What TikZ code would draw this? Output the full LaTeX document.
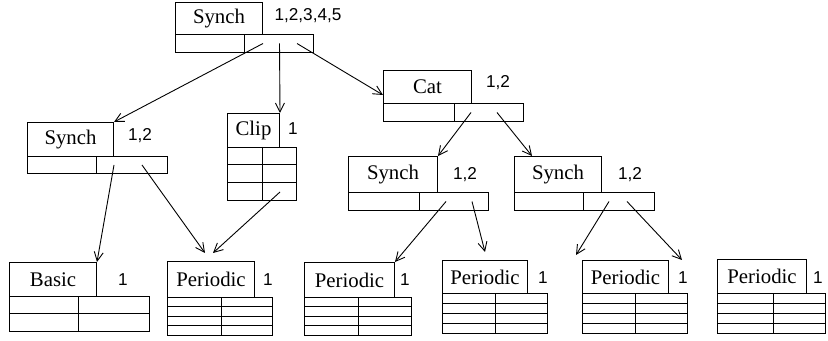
\documentclass[tikz,border=0pt]{standalone}
\usepackage{fontspec}
\setmainfont{Liberation Serif}
\setsansfont{Liberation Sans}
\usetikzlibrary{arrows.meta}

\tikzset{
	namebox/.style={draw, rectangle, inner sep=0pt, anchor=north west, font=\fontsize{10.4}{12}\selectfont},
	slot/.style={draw, rectangle, inner sep=0pt, anchor=north west},
	count/.style={font=\sffamily\fontsize{8.6}{10}\selectfont, inner sep=0pt},
	ptr/.style={line width=0.45pt, -{Straight Barb[length=4.5pt,width=4.5pt]}}
}

\begin{document}
\begin{tikzpicture}[x=0.5pt, y=-0.5pt, line width=0.5pt]

			\useasboundingbox (0,0) rectangle (828,341);

			% top synch record
			\node[namebox, minimum width=43.5pt, minimum height=16pt]
			(SynchTop) at (175,2) {Synch};
			\node[slot, minimum width=34.5pt, minimum height=9pt]
			(SynchTop-L) at (175,34) {};
			\node[slot, minimum width=34.5pt, minimum height=9pt]
			(SynchTop-R) at (244,34) {};
			\node[count] (SynchTop-N) at (308,16) {1,2,3,4,5};

			% left synch record
			\node[namebox, minimum width=43pt, minimum height=17pt]
			(SynchLeft) at (27,122) {Synch};
			\node[slot, minimum width=34.5pt, minimum height=8.5pt]
			(SynchLeft-L) at (27,156) {};
			\node[slot, minimum width=35.5pt, minimum height=8.5pt]
			(SynchLeft-R) at (96,156) {};
			\node[count] (SynchLeft-N) at (140,136) {1,2};

			% clip record
			\node[namebox, minimum width=26pt, minimum height=17pt]
			(Clip) at (227,113) {Clip};
			\node[slot, minimum width=34.5pt, minimum height=26.5pt]
			(Clip-T) at (227,147) {};
			\draw (262,147) -- (262,200);
			\draw (227,165) -- (296,165);
			\draw (227,183) -- (296,183);
			\node[count] (Clip-N) at (293,129) {1};

			% cat record
			\node[namebox, minimum width=44pt, minimum height=16.5pt]
			(Cat) at (383,70) {Cat};
			\node[slot, minimum width=35.5pt, minimum height=9pt]
			(Cat-L) at (383,103) {};
			\node[slot, minimum width=34.5pt, minimum height=9pt]
			(Cat-R) at (454,103) {};
			\node[count] (Cat-N) at (498,83) {1,2};

			% synch records under cat
			\node[namebox, minimum width=44.5pt, minimum height=18pt]
			(SynchMidA) at (348,156) {Synch};
			\node[slot, minimum width=35.5pt, minimum height=9pt]
			(SynchMidA-L) at (348,192) {};
			\node[slot, minimum width=34.5pt, minimum height=9pt]
			(SynchMidA-R) at (419,192) {};
			\node[count] (SynchMidA-N) at (465,175) {1,2};

			\node[namebox, minimum width=43.5pt, minimum height=18pt]
			(SynchMidB) at (514,156) {Synch};
			\node[slot, minimum width=34.5pt, minimum height=9pt]
			(SynchMidB-L) at (514,192) {};
			\node[slot, minimum width=35.5pt, minimum height=9pt]
			(SynchMidB-R) at (583,192) {};
			\node[count] (SynchMidB-N) at (630,175) {1,2};

			% basic record
			\node[namebox, minimum width=43.5pt, minimum height=17pt]
			(Basic) at (9,262) {Basic};
			\node[slot, minimum width=70pt, minimum height=17.5pt]
			(Basic-T) at (9,296) {};
			\draw (78,296) -- (78,331);
			\draw (9,313) -- (149,313);
			\node[count] (Basic-N) at (123,280) {1};

			% periodic records
			\node[namebox, minimum width=43.5pt, minimum height=18pt]
			(Per1) at (167,261) {Periodic};
			\node[slot, minimum width=52.5pt, minimum height=19pt]
			(Per1-T) at (167,297) {};
			\draw (221,297) -- (221,335);
			\draw (167,306.5) -- (272,306.5);
			\draw (167,316) -- (272,316);
			\draw (167,325.5) -- (272,325.5);
			\node[count] (Per1-N) at (268,280) {1};

			\node[namebox, minimum width=45pt, minimum height=17.5pt]
			(Per2) at (304,262) {Periodic};
			\node[slot, minimum width=53.5pt, minimum height=19pt]
			(Per2-T) at (304,297) {};
			\draw (358,297) -- (358,335);
			\draw (304,306.5) -- (411,306.5);
			\draw (304,316) -- (411,316);
			\draw (304,325.5) -- (411,325.5);
			\node[count] (Per2-N) at (405,280) {1};

			\node[namebox, minimum width=42.5pt, minimum height=16.5pt]
			(Per3) at (442,260) {Periodic};
			\node[slot, minimum width=52.5pt, minimum height=20pt]
			(Per3-T) at (442,293) {};
			\draw (495,293) -- (495,333);
			\draw (442,303) -- (547,303);
			\draw (442,313) -- (547,313);
			\draw (442,323) -- (547,323);
			\node[count] (Per3-N) at (543,278) {1};

			\node[namebox, minimum width=43pt, minimum height=16.5pt]
			(Per4) at (582,260) {Periodic};
			\node[slot, minimum width=52.5pt, minimum height=20pt]
			(Per4-T) at (582,293) {};
			\draw (635,293) -- (635,333);
			\draw (582,303) -- (687,303);
			\draw (582,313) -- (687,313);
			\draw (582,323) -- (687,323);
			\node[count] (Per4-N) at (683,278) {1};

			\node[namebox, minimum width=44.5pt, minimum height=17pt]
			(Per5) at (717,259) {Periodic};
			\node[slot, minimum width=54pt, minimum height=20pt]
			(Per5-T) at (717,293) {};
			\draw (773,293) -- (773,333);
			\draw (717,303) -- (825,303);
			\draw (717,313) -- (825,313);
			\draw (717,323) -- (825,323);
			\node[count] (Per5-N) at (818,278) {1};

			% pointers
			\draw[ptr] ([xshift=-8pt]SynchTop-R.center) -- (SynchLeft.north east);
			\draw[ptr] ([xshift=0.25pt]SynchTop-R.center) -- (Clip.north east);
			\draw[ptr] ([xshift=9pt]SynchTop-R.center) -- ([yshift=-4pt]Cat.west);

			\draw[ptr] ([xshift=-9pt]SynchLeft-R.center) -- (Basic.north east);
			\draw[ptr] ([xshift=5pt]SynchLeft-R.center) -- ([xshift=-3pt,yshift=4pt]Per1.north);
			\draw[ptr] ([xshift=-8.5pt,yshift=4.5pt]Clip-T.south east) -- ([xshift=1pt,yshift=4pt]Per1.north);

			\draw[ptr] ([xshift=-9pt]Cat-R.center) -- (SynchMidA.north east);
			\draw[ptr] ([xshift=4pt]Cat-R.center) -- ([xshift=9pt]SynchMidB.north west);

			\draw[ptr] ([xshift=-4pt]SynchMidA-R.center) -- (Per2.north east);
			\draw[ptr] ([xshift=9pt]SynchMidA-R.center) -- ([yshift=4pt]Per3.north);

			\draw[ptr] ([xshift=-5pt]SynchMidB-R.center) -- ([xshift=-3pt,yshift=2.5pt]Per4.north west);
			\draw[ptr] ([xshift=4pt]SynchMidB-R.center) -- ([xshift=6.5pt]Per4.north east);

		\end{tikzpicture}
\end{document}
